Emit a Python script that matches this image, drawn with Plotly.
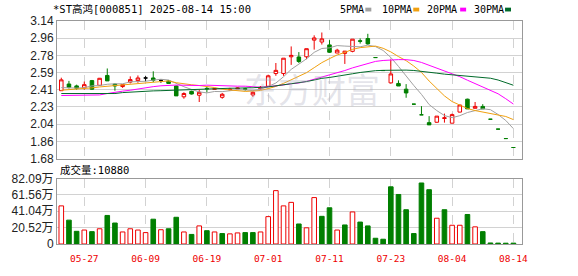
import numpy as np
import plotly.graph_objects as go

# ---------------- data ----------------
dates = ["05-22", "05-23", "05-26", "05-27", "05-28", "05-29", "05-30", "06-03", "06-04", "06-05",
         "06-06", "06-09", "06-10", "06-11", "06-12", "06-13", "06-16", "06-17", "06-18", "06-19",
         "06-20", "06-23", "06-24", "06-25", "06-26", "06-27", "06-30", "07-01", "07-02", "07-03",
         "07-04", "07-07", "07-08", "07-09", "07-10", "07-11", "07-14", "07-15", "07-16", "07-17",
         "07-18", "07-21", "07-22", "07-23", "07-24", "07-25", "07-28", "07-29", "07-30", "07-31",
         "08-01", "08-04", "08-05", "08-06", "08-07", "08-08", "08-11", "08-12", "08-13", "08-14"]
tick_dates = ["05-27", "06-09", "06-19", "07-01", "07-11", "07-23", "08-04", "08-14"]

opens = [2.400, 2.471, 2.451, 2.430, 2.507, 2.457, 2.562, 2.470, 2.444, 2.491,
         2.507, 2.535, 2.535, 2.510, 2.504, 2.450, 2.335, 2.393, 2.352, 2.425,
         2.415, 2.330, 2.410, 2.420, 2.420, 2.355, 2.420, 2.447, 2.582, 2.582,
         2.760, 2.758, 2.760, 2.937, 2.917, 2.886, 2.800, 2.796, 2.818, 2.930,
         2.954, 2.752, 2.614, 2.483, 2.477, 2.416, 2.257, 2.144, 2.061, 2.065,
         2.105, 2.055, 2.173, 2.310, 2.213, 2.233, 2.097, 1.992, 1.892, 1.797]
highs = [2.538, 2.504, 2.464, 2.497, 2.514, 2.535, 2.636, 2.475, 2.470, 2.552,
         2.562, 2.555, 2.606, 2.517, 2.514, 2.455, 2.383, 2.400, 2.410, 2.440,
         2.430, 2.376, 2.430, 2.435, 2.430, 2.393, 2.450, 2.570, 2.694, 2.745,
         2.870, 2.810, 2.846, 2.988, 3.018, 2.937, 2.845, 2.820, 2.947, 2.955,
         3.004, 2.752, 2.614, 2.730, 2.510, 2.470, 2.257, 2.236, 2.130, 2.130,
         2.157, 2.157, 2.250, 2.315, 2.280, 2.257, 2.097, 1.992, 1.892, 1.797]
lows = [2.400, 2.423, 2.410, 2.410, 2.410, 2.455, 2.504, 2.400, 2.430, 2.477,
        2.484, 2.500, 2.491, 2.484, 2.477, 2.345, 2.315, 2.360, 2.280, 2.380,
        2.410, 2.315, 2.400, 2.418, 2.400, 2.335, 2.410, 2.445, 2.558, 2.558,
        2.674, 2.694, 2.735, 2.836, 2.890, 2.800, 2.800, 2.684, 2.808, 2.900,
        2.886, 2.752, 2.614, 2.477, 2.450, 2.325, 2.257, 2.144, 2.037, 2.060,
        2.061, 2.055, 2.170, 2.207, 2.213, 2.207, 2.097, 1.992, 1.892, 1.797]
closes = [2.515, 2.436, 2.426, 2.464, 2.416, 2.532, 2.504, 2.450, 2.464, 2.518,
          2.535, 2.535, 2.510, 2.510, 2.477, 2.345, 2.370, 2.365, 2.383, 2.420,
          2.420, 2.362, 2.415, 2.428, 2.415, 2.383, 2.437, 2.558, 2.616, 2.745,
          2.775, 2.710, 2.846, 2.960, 2.950, 2.808, 2.830, 2.820, 2.947, 2.925,
          2.897, 2.752, 2.614, 2.578, 2.450, 2.376, 2.257, 2.144, 2.037, 2.130,
          2.112, 2.146, 2.248, 2.207, 2.233, 2.207, 2.097, 1.992, 1.892, 1.797]
# volume in 万 (10k shares)
volumes = [47.8, 29.9, 15.9, 17.5, 15.5, 19.1, 35.8, 26.3, 15.1, 19.1,
           17.5, 14.3, 31.1, 17.9, 19.1, 33.5, 15.1, 12.0, 22.7, 16.7,
           15.1, 13.1, 12.7, 13.9, 14.3, 14.3, 15.1, 34.3, 66.9, 47.8,
           52.2, 25.1, 20.3, 58.2, 34.7, 45.4, 17.5, 23.9, 40.2, 27.5,
           22.7, 7.2, 6.0, 71.7, 62.1, 43.0, 13.1, 76.5, 68.1, 32.3,
           43.0, 23.5, 23.5, 37.0, 21.5, 15.5, 1.3, 1.1, 1.0, 1.088]
# moving-average values before a full window of closes is available
ma5_head = [2.433, 2.428, 2.428, 2.432]
ma10_head = [2.405, 2.410, 2.415, 2.420, 2.430, 2.440, 2.447, 2.452, 2.460]
ma20_head = [2.349, 2.349, 2.349, 2.349, 2.349, 2.355, 2.370, 2.385, 2.395, 2.405,
             2.420, 2.430, 2.443, 2.452, 2.457, 2.460, 2.458, 2.455, 2.455]
ma30_head = [2.370, 2.370, 2.370, 2.370, 2.370, 2.370, 2.370, 2.370, 2.380, 2.385,
             2.395, 2.396, 2.398, 2.400, 2.403, 2.405, 2.410, 2.415, 2.420, 2.424,
             2.426, 2.426, 2.426, 2.427, 2.428, 2.430, 2.435, 2.440, 2.450]
price_tick_labels = ["3.14", "2.96", "2.78", "2.59", "2.41", "2.23", "2.04", "1.86", "1.68"]
vol_tick_labels = ["0", "20.52万", "41.04万", "61.56万", "82.09万"]
vol_max = 82.09

# ---------------- styles ----------------
RED = "#ee0000"
GREEN = "#007f00"
BLACK = "#000000"
MA_COLORS = {"5PMA": "#a0a0a0", "10PMA": "#f0a010", "20PMA": "#ff00ff", "30PMA": "#006a2a"}
GRID = "#d2d2d2"
FRAME = "#999999"

n = len(dates)
x = np.arange(n)
c = np.array(closes)


def moving_average(head, win):
    vals = list(head)
    for i in range(win - 1, n):
        vals.append(float(np.mean(c[i - win + 1:i + 1])))
    return vals


mas = {
    "5PMA": moving_average(ma5_head, 5),
    "10PMA": moving_average(ma10_head, 10),
    "20PMA": moving_average(ma20_head, 20),
    "30PMA": moving_average(ma30_head, 30),
}

# candle colour class
cls = []
for i in range(n):
    if closes[i] > opens[i]:
        cls.append("r")
    elif closes[i] < opens[i]:
        cls.append("g")
    else:
        prev = closes[i - 1] if i > 0 else closes[i]
        cls.append("r" if closes[i] > prev else ("g" if closes[i] < prev else "k"))

# volume colour: red when close >= open and close >= previous close
vcls = []
for i in range(n):
    prev = closes[i - 1] if i > 0 else opens[i]
    vcls.append("r" if (closes[i] >= opens[i] and closes[i] >= prev) else "g")

fig = go.Figure()

for name, vals in mas.items():
    fig.add_trace(go.Scatter(x=x, y=vals, mode="lines", line=dict(color=MA_COLORS[name], width=1),
                             xaxis="x", yaxis="y", hoverinfo="skip", showlegend=False))

for key, lc, fc in [("r", RED, "#ffffff"), ("g", GREEN, GREEN), ("k", BLACK, BLACK)]:
    idx = [i for i in range(n) if cls[i] == key]
    if not idx:
        continue
    fig.add_trace(go.Candlestick(
        x=[x[i] for i in idx],
        open=[opens[i] for i in idx], high=[highs[i] for i in idx],
        low=[lows[i] for i in idx], close=[closes[i] for i in idx],
        increasing=dict(line=dict(color=lc, width=1), fillcolor=fc),
        decreasing=dict(line=dict(color=lc, width=1), fillcolor=fc),
        whiskerwidth=0, xaxis="x", yaxis="y", showlegend=False, hoverinfo="skip"))

fig.add_trace(go.Bar(
    x=x, y=volumes, width=0.6,
    marker=dict(color=["#ffffff" if v == "r" else GREEN for v in vcls],
                line=dict(color=[RED if v == "r" else GREEN for v in vcls], width=1)),
    xaxis="x2", yaxis="y2", showlegend=False, hoverinfo="skip"))

W, H = 578, 276
ml, mr, mt, mb = 56, 56, 21, 21
ph = H - mt - mb
price_dom = [(H - mb - 165.3) / ph, 1.0]
vol_dom = [0.0, (H - mb - 186.3) / ph]

tickpos = [dates.index(d) for d in tick_dates]
price_tick_vals = [float(t) for t in price_tick_labels]
price_tick_pos = list(np.linspace(price_tick_vals[0], price_tick_vals[-1], len(price_tick_labels)))
vol_tick_pos = list(np.linspace(0, vol_max, len(vol_tick_labels)))

xr = [-0.56, n + 0.12]
axis_common = dict(showline=True, mirror=True, linecolor=FRAME, linewidth=1, zeroline=False,
                   ticks="", fixedrange=True)

fig.update_layout(
    width=W, height=H, margin=dict(l=ml, r=mr, t=mt, b=mb),
    paper_bgcolor="white", plot_bgcolor="white", boxgap=0.34, barmode="overlay",
    showlegend=False,
    xaxis=dict(domain=[0, 1], anchor="y", range=xr, tickvals=tickpos, showticklabels=False,
               showgrid=True, gridcolor=GRID, griddash="dash", gridwidth=1,
               rangeslider=dict(visible=False), **axis_common),
    yaxis=dict(domain=price_dom, anchor="x", range=[price_tick_vals[-1], price_tick_vals[0]],
               tickvals=price_tick_pos, ticktext=price_tick_labels, showgrid=True,
               gridcolor=GRID, gridwidth=1,
               tickfont=dict(family="Liberation Sans, Arial", size=12, color="#222222"),
               **axis_common),
    xaxis2=dict(domain=[0, 1], anchor="y2", range=xr, tickvals=tickpos, ticktext=tick_dates,
                showgrid=True, gridcolor=GRID, griddash="dash", gridwidth=1, ticklabelstandoff=6,
                tickfont=dict(family="DejaVu Sans Mono", size=9.5, color=RED), **axis_common),
    yaxis2=dict(domain=vol_dom, anchor="x2", range=[0, vol_max], tickvals=vol_tick_pos,
                ticktext=vol_tick_labels, showgrid=True, gridcolor=GRID, gridwidth=1,
                tickfont=dict(family="Liberation Sans, Noto Sans CJK SC", size=12, color="#222222"),
                **axis_common),
)


def px_x(p):
    return (p - ml) / (W - ml - mr)


def px_y(p):
    return (H - mb - p) / ph


ann = [
    dict(text="*ST高鸿[000851] 2025-08-14 15:00", x=px_x(50), y=px_y(8.5), xanchor="left",
         yanchor="middle", font=dict(family="DejaVu Sans Mono, Noto Sans CJK SC", size=10.5, color="#000")),
    dict(text="成交量:%d" % round(volumes[-1] * 10000), x=px_x(57), y=px_y(177.5), xanchor="left",
         yanchor="middle", font=dict(family="DejaVu Sans Mono, Noto Sans CJK SC", size=10.5, color="#000")),
    dict(text="东方财富", x=px_x(312), y=px_y(92), xanchor="center", yanchor="middle",
         font=dict(family="Noto Sans CJK SC", size=34, color="rgba(170,170,190,0.32)")),
]
legend_pos = {"5PMA": (338, 365), "10PMA": (380, 413), "20PMA": (425, 460), "30PMA": (472, 505)}
shapes = []
for name, (tx, sx) in legend_pos.items():
    ann.append(dict(text=name, x=px_x(tx), y=px_y(9), xanchor="left", yanchor="middle",
                    font=dict(family="DejaVu Sans Mono", size=10, color="#000")))
    shapes.append(dict(type="rect", xref="paper", yref="paper", x0=px_x(sx), x1=px_x(sx + 6),
                       y0=px_y(11), y1=px_y(7), fillcolor=MA_COLORS[name], line=dict(width=0)))
for a in ann:
    a.update(xref="paper", yref="paper", showarrow=False)
fig.update_layout(annotations=ann, shapes=shapes)

fig.write_html("out.html")
